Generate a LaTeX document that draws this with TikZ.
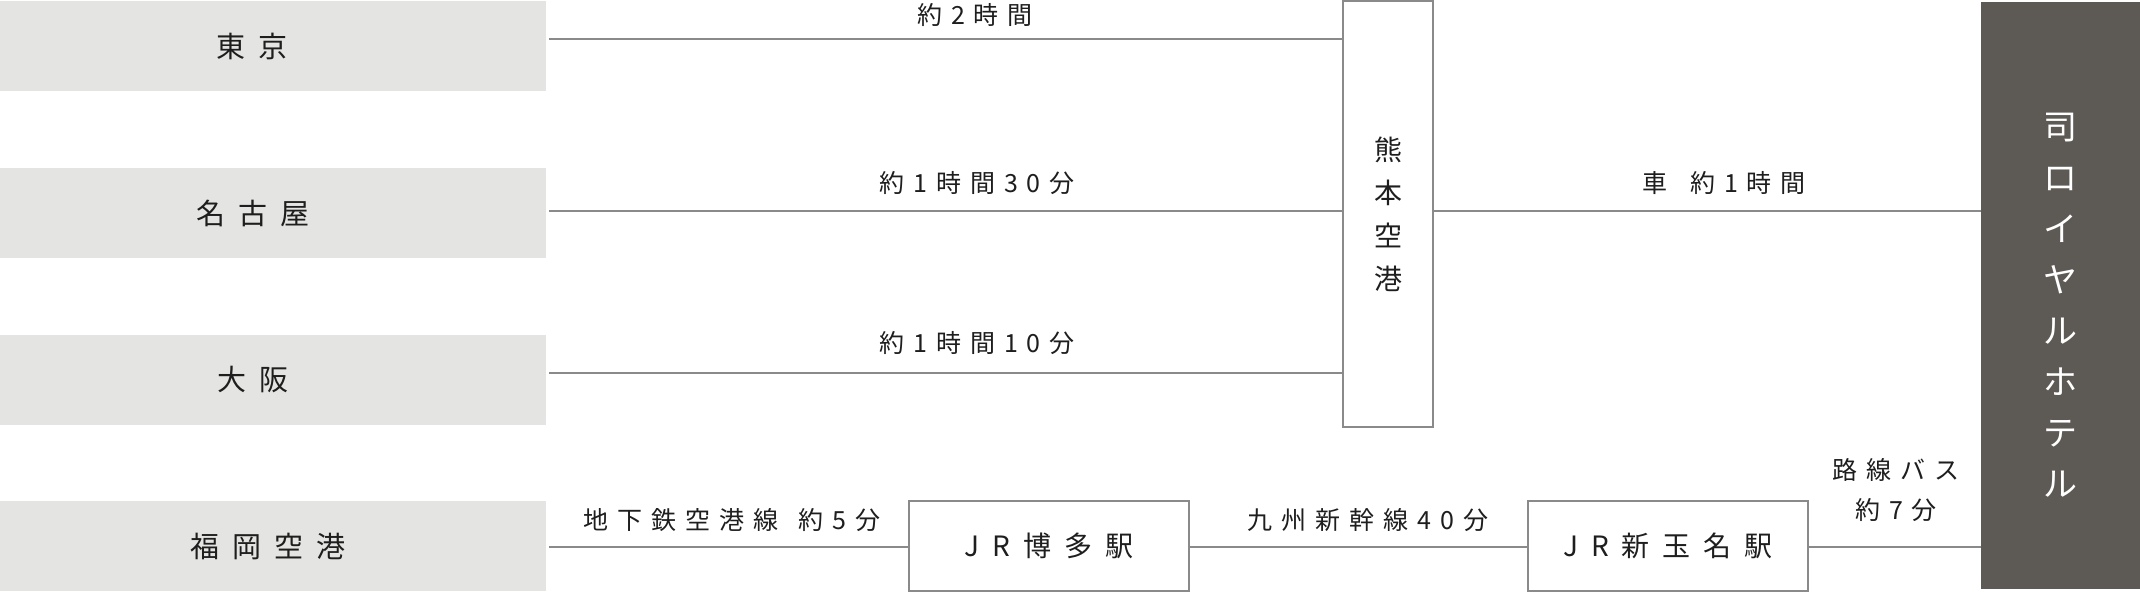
\documentclass[tikz,border=0pt]{standalone}
\usepackage{fontspec}
\setmainfont{Noto Sans CJK JP}
\definecolor{cityfill}{HTML}{E4E4E2}
\definecolor{hotelfill}{HTML}{5D5955}
\definecolor{linegray}{HTML}{8A8A8A}
\definecolor{ink}{HTML}{1E1E1E}
\newcommand\Ka{\kern9pt}
\newcommand\Kb{\kern13pt}
\newcommand\cityfont{\fontsize{29pt}{35pt}\selectfont}
\newcommand\boxfont{\fontsize{28pt}{34pt}\selectfont}
\newcommand\kumafont{\fontsize{28pt}{43pt}\selectfont}
\newcommand\hotelfont{\fontsize{34pt}{51pt}\selectfont}
\newcommand\lblfont{\fontsize{25pt}{40pt}\selectfont}
\begin{document}
\begin{tikzpicture}[x=1pt,y=-1pt,
  citybox/.style={fill=cityfill,minimum width=546pt,minimum height=90pt,inner sep=0pt},
  citytext/.style={font=\cityfont,text=ink,inner sep=0pt},
  stationbox/.style={draw=linegray,line width=1.5pt,fill=white,minimum width=280pt,minimum height=90pt,inner sep=0pt,font=\boxfont,text=ink},
  lbl/.style={font=\lblfont,text=ink,inner sep=0pt},
  conn/.style={draw=linegray,line width=1.5pt},
]
\fill[white] (0,0) rectangle (2140,592);
\useasboundingbox (0,0) rectangle (2140,592);

% origin boxes
\node[citybox,label={[citytext,xshift=-21pt]center:東\Kb 京}] (tokyo) at (273,46) {};
\node[citybox,label={[citytext,xshift=-20pt]center:名\Kb 古\Kb 屋}] (nagoya) at (273,213) {};
\node[citybox,label={[citytext,xshift=-20pt]center:大\Kb 阪}] (osaka) at (273,380) {};
\node[citybox,label={[citytext,xshift=-5pt]center:福\Kb 岡\Kb 空\Kb 港}] (fukuoka) at (273,546) {};

% Kumamoto airport
\node[draw=linegray,line width=1.5pt,fill=white,minimum width=90pt,minimum height=426pt,
      inner sep=0pt,align=center,font=\kumafont,text=ink] (kumamoto) at (1388,214) {熊\\本\\空\\港};

% hotel
\node[fill=hotelfill,draw=hotelfill,minimum width=159pt,minimum height=586pt,inner sep=0pt,
      label={[font=\hotelfont,text=white,align=center,inner sep=0pt,yshift=-10pt]center:{司\\ロ\\イ\\ヤ\\ル\\ホ\\テ\\ル}}] (hotel) at (2060.5,295) {};

% stations
\node[stationbox] (hakata) at (1049,546) {J\Kb R\Kb 博\Kb 多\Kb 駅};
\node[stationbox] (tamana) at (1668,546) {J\Kb R\Kb 新\Kb 玉\Kb 名\Kb 駅};

% line heights
\coordinate (ya) at (0,39);
\coordinate (yb) at (0,211);
\coordinate (yc) at (0,373);
\coordinate (yd) at (0,547);

% connectors
\draw[conn,shorten <=3pt] (tokyo.east |- ya) -- (kumamoto.west |- ya);
\draw[conn,shorten <=3pt] (nagoya.east |- yb) -- (kumamoto.west |- yb);
\draw[conn,shorten <=3pt] (osaka.east |- yc) -- (kumamoto.west |- yc);
\draw[conn] (kumamoto.east |- yb) -- (hotel.west |- yb);
\draw[conn,shorten <=3pt] (fukuoka.east |- yd) -- (hakata.west |- yd);
\draw[conn] (hakata.east |- yd) -- (tamana.west |- yd);
\draw[conn] (tamana.east |- yd) -- (hotel.west |- yd);

% labels
\node[lbl] (l1) at (975,15) {約\Ka 2\Ka 時\Ka 間};
\node[lbl] (l2) at (977,183) {約\Ka 1\Ka 時\Ka 間\Ka 3\Ka 0\Ka 分};
\node[lbl] (l3) at (977,343) {約\Ka 1\Ka 時\Ka 間\Ka 1\Ka 0\Ka 分};
\node[lbl] (l4) at (1724,183) {車\kern23pt 約\Ka 1\Ka 時\Ka 間};
\node[lbl] (l5) at (732,520) {地\Ka 下\Ka 鉄\Ka 空\Ka 港\Ka 線\kern20pt 約\Ka 5\Ka 分};
\node[lbl] (l6) at (1368,520) {九\Ka 州\Ka 新\Ka 幹\Ka 線\Ka 4\Ka 0\Ka 分};
\node[lbl,align=center] (l7) at (1896,490) {路\Ka 線\Ka バ\Ka ス\\約\Ka 7\Ka 分};
\end{tikzpicture}
\end{document}
